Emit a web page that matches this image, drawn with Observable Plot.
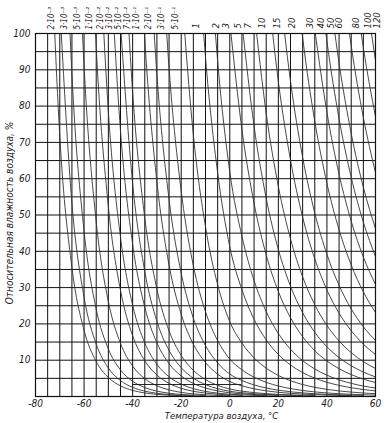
<!DOCTYPE html>
<html><head><meta charset="utf-8">
<script src="https://cdn.jsdelivr.net/npm/d3@7"></script>
<script src="https://cdn.jsdelivr.net/npm/@observablehq/plot@0.6"></script>
<style>
body{margin:0;background:#fff;}
svg{font-family:"Liberation Sans Narrow","DejaVu Sans Condensed","DejaVu Sans",sans-serif;}
</style></head><body><div id="chart"></div>
<script>
// Air temperature grid (°C) and saturation water-vapour density (g/m³) at each temperature
const temps = [-80,-75,-70,-65,-60,-55,-50,-45,-40,-35,-30,-25,-20,-15,-10,-5,0,5,10,15,20,25,30,35,40,45,50,55,60];
const satDensity = [0.000614,0.001334,0.002789,0.00563,0.01098,0.02079,0.03822,0.06836,0.1193,0.2033,0.3384,0.5527,0.8838,1.388,2.140,3.246,4.849,6.797,9.397,12.82,17.29,23.03,30.35,39.58,51.09,65.34,82.80,104.1,129.7];

// Absolute humidity levels (g/m³) of the curves and their labels
const levels = [0.002,0.003,0.005,0.01,0.02,0.03,0.05,0.07,0.1,0.2,0.3,0.5,1,2,3,5,7,10,15,20,30,40,50,60,80,100,120];
const levelLabels = ["2·10⁻³","3·10⁻³","5·10⁻³","1·10⁻²","2·10⁻²","3·10⁻²","5·10⁻²","7·10⁻²","1·10⁻¹","2·10⁻¹","3·10⁻¹","5·10⁻¹","1","2","3","5","7","10","15","20","30","40","50","60","80","100","120"];
const labelTemps = [-74.6,-69.3,-63.9,-59.0,-54.5,-50.8,-47.1,-43.4,-39.6,-34.7,-29.4,-23.6,-15.4,-7.2,-3.1,1.7,5.8,11.8,18.0,24.2,31.5,36.0,40.1,43.5,50.4,55.2,58.9];

// Axes ticks and grid
const xTicks = [-80,-60,-40,-20,0,20,40,60];
const yTicks = [10,20,30,40,50,60,70,80,90,100];
const gridTemps = [-75,-70,-65,-60,-55,-50,-45,-40,-35,-30,-25,-20,-15,-10,-5,0,5,10,15,20,25,30,35,40,45,50,55];
const gridRH = [5,10,15,20,25,30,35,40,45,50,55,60,65,70,75,80,85,90,95];
const bottomBarT = [-40,5];
const bottomBarRH = [3.3];

// Build line table: one row per (level, temperature)
const curves = [];
levels.forEach((a) => {
  const rh = satDensity.map(s => 100 * a / s);
  let start = rh.findIndex(v => v <= 100);
  start = Math.max(0, start - 1);
  for (let i = start; i < temps.length; i++) {
    curves.push({level: a, t: temps[i], rh: rh[i]});
    if (rh[i] < 0.3) break;
  }
});
const labelRows = levels.map((a, i) => ({label: levelLabels[i], t: labelTemps[i], small: a < 1}));

const chart = Plot.plot({
  width: 385,
  height: 423,
  marginLeft: 35,
  marginRight: 10,
  marginTop: 33,
  marginBottom: 27,
  x: {domain: [-80, 60]},
  y: {domain: [0, 100]},
  style: {fontSize: "10px", fontStyle: "italic", color: "#222", background: "#fff"},
  marks: [
    Plot.gridX(gridTemps, {stroke: "#111", strokeOpacity: 1, strokeWidth: 1}),
    Plot.gridY(gridRH, {stroke: "#111", strokeOpacity: 1, strokeWidth: 1}),
    Plot.line(curves, {x: "t", y: "rh", z: "level", curve: "monotone-x", stroke: "#333", strokeWidth: 0.9, clip: true}),
    Plot.ruleY(bottomBarRH, {x1: bottomBarT[0], x2: bottomBarT[1], stroke: "#222", strokeWidth: 1}),
    Plot.frame({stroke: "#111", strokeWidth: 1.2}),
    Plot.axisX(xTicks, {tickSize: 0, tickPadding: 3, tickFormat: d => String(d), label: null, fontSize: 10, fontStyle: "italic"}),
    Plot.axisY(yTicks, {tickSize: 0, tickPadding: 5, label: null, fontSize: 10, fontStyle: "italic"}),
    Plot.text(["Температура воздуха, °C"], {frameAnchor: "bottom", textAnchor: "middle", dx: 16, dy: 22, fontSize: 9.5, fontStyle: "italic"}),
    Plot.text(["Относительная влажность воздуха, %"], {frameAnchor: "left", textAnchor: "middle", rotate: -90, dx: -26, dy: -2, fontSize: 10, fontStyle: "italic"}),
    Plot.text(labelRows.filter(d => d.small), {x: "t", text: "label", frameAnchor: "top", rotate: -90, textAnchor: "start", dy: -4, fontSize: 8, fontStyle: "italic"}),
    Plot.text(labelRows.filter(d => !d.small), {x: "t", text: "label", frameAnchor: "top", rotate: -90, textAnchor: "start", dy: -5, fontSize: 9.5, fontStyle: "italic"})
  ]
});
document.getElementById("chart").append(chart);
</script></body></html>
